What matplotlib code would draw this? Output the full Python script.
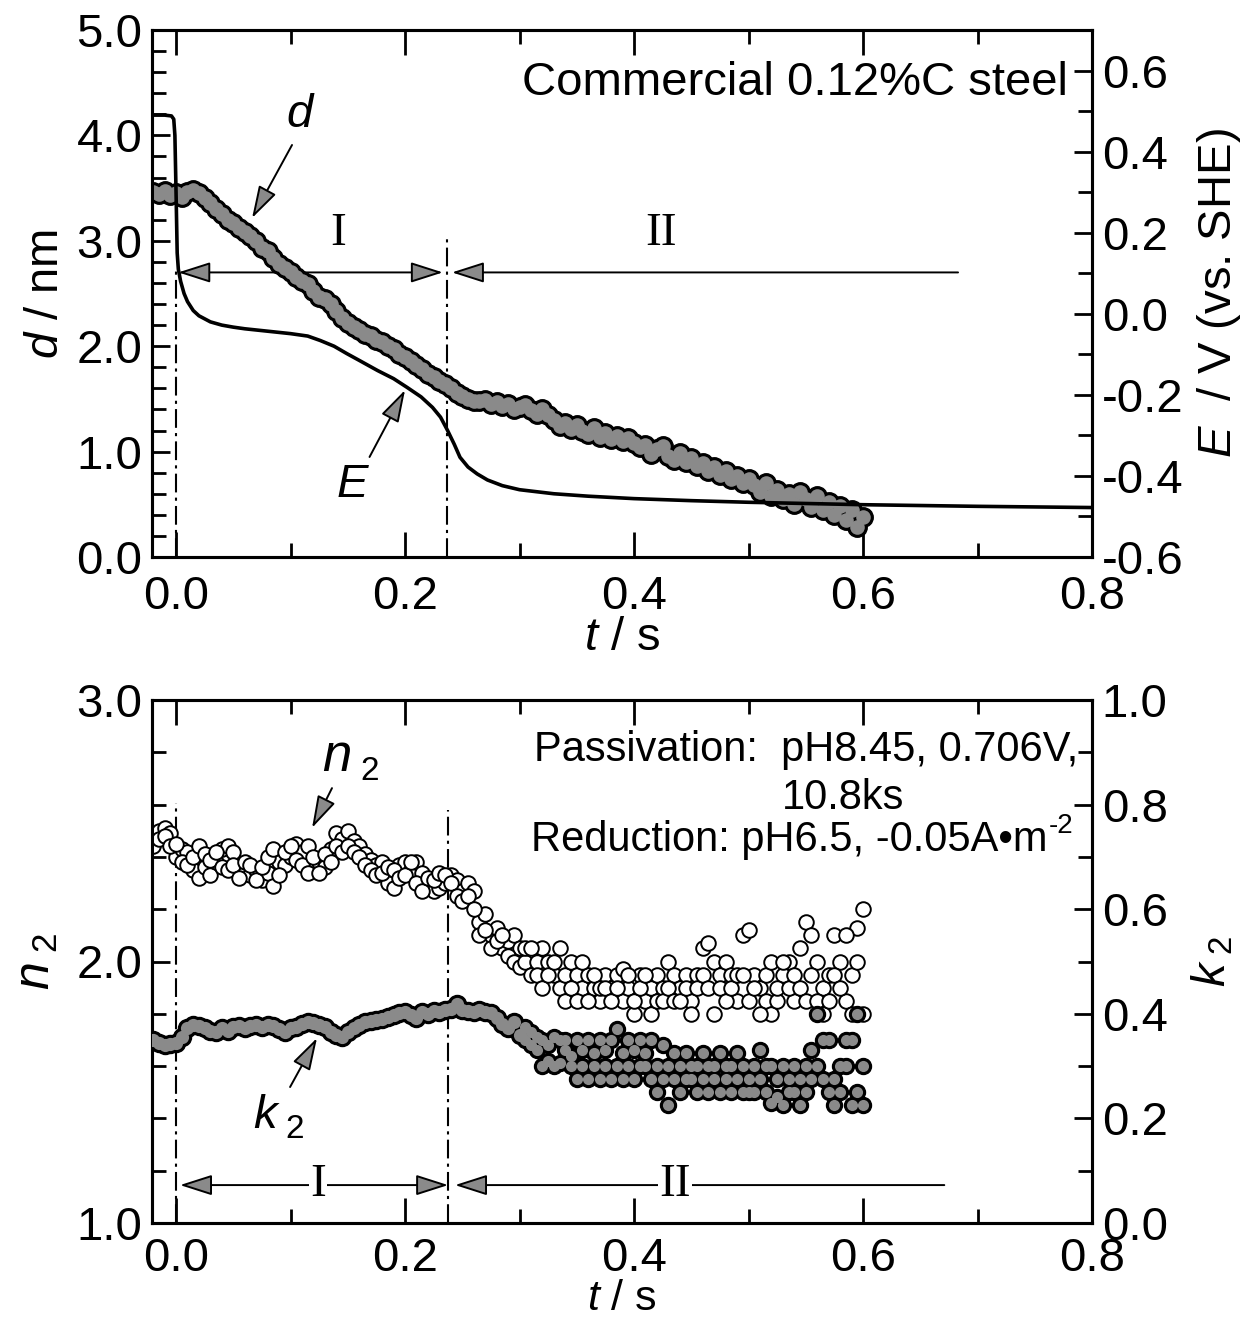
import numpy as np
import matplotlib
matplotlib.use('Agg')
import matplotlib.pyplot as plt
from matplotlib.ticker import MultipleLocator, FormatStrFormatter

plt.rcParams['font.family'] = ['Liberation Sans', 'DejaVu Sans']
plt.rcParams['mathtext.fontset'] = 'custom'
plt.rcParams['mathtext.rm'] = 'Liberation Sans'
plt.rcParams['mathtext.it'] = 'Liberation Sans:italic'
plt.rcParams['mathtext.bf'] = 'Liberation Sans:bold'
plt.rcParams['axes.unicode_minus'] = False

# ---------------- data ----------------
# top panel: film thickness d (nm), sampled every 0.005 s from -0.02 s
d_t_start, d_t_step = -0.02, 0.005
d_nm = [3.46, 3.44, 3.47, 3.43, 3.45, 3.42, 3.46, 3.48, 3.45, 3.41,
        3.36, 3.30, 3.25, 3.20, 3.17, 3.12, 3.08, 3.05, 3.00, 2.93,
        2.90, 2.84, 2.78, 2.74, 2.70, 2.66, 2.62, 2.59, 2.52, 2.47,
        2.45, 2.40, 2.33, 2.27, 2.22, 2.18, 2.15, 2.12, 2.10, 2.06,
        2.04, 2.00, 1.97, 1.93, 1.90, 1.86, 1.82, 1.78, 1.74, 1.71,
        1.67, 1.64, 1.60, 1.56, 1.53, 1.50, 1.48, 1.48, 1.49, 1.45,
        1.47, 1.43, 1.45, 1.40, 1.42, 1.44, 1.39, 1.36, 1.40, 1.35,
        1.30, 1.24, 1.27, 1.21, 1.25, 1.20, 1.17, 1.22, 1.14, 1.18,
        1.12, 1.15, 1.10, 1.13, 1.08, 1.04, 1.06, 0.98, 1.02, 1.05,
        0.96, 0.92, 0.99, 0.90, 0.94, 0.86, 0.89, 0.82, 0.85, 0.78,
        0.82, 0.74, 0.77, 0.70, 0.74, 0.68, 0.62, 0.70, 0.58, 0.64,
        0.55, 0.60, 0.50, 0.62, 0.55, 0.47, 0.58, 0.45, 0.52, 0.40,
        0.48, 0.35, 0.45, 0.28, 0.38]

# top panel: electrode potential E (V vs. SHE)
E_t = [-0.021, -0.010, -0.004, -0.002, -0.001, 0.000, 0.001, 0.002, 0.004, 0.007,
       0.010, 0.015, 0.020, 0.030, 0.040, 0.050, 0.060, 0.080, 0.100, 0.115,
       0.126, 0.138, 0.149, 0.160, 0.176, 0.190, 0.202, 0.214, 0.224, 0.231,
       0.237, 0.243, 0.248, 0.255, 0.263, 0.272, 0.285, 0.300, 0.330, 0.360,
       0.400, 0.450, 0.500, 0.600, 0.700, 0.800]
E_V = [0.490, 0.490, 0.488, 0.480, 0.440, 0.300, 0.150, 0.110, 0.080, 0.050,
       0.030, 0.008, -0.005, -0.020, -0.028, -0.033, -0.037, -0.043, -0.049, -0.055,
       -0.066, -0.080, -0.098, -0.115, -0.140, -0.160, -0.182, -0.205, -0.231, -0.255,
       -0.287, -0.322, -0.354, -0.378, -0.395, -0.410, -0.424, -0.434, -0.444, -0.450,
       -0.456, -0.461, -0.465, -0.471, -0.475, -0.478]

# bottom panel, early part: every 0.005 s from -0.02 s to 0.30 s
early_t_start, early_t_step = -0.02, 0.005
n2_early_a = [2.46, 2.50, 2.51, 2.49, 2.40, 2.43, 2.42, 2.35, 2.32, 2.36,
              2.33, 2.38, 2.43, 2.44, 2.42, 2.35, 2.34, 2.33, 2.35, 2.31,
              2.34, 2.29, 2.38, 2.37, 2.40, 2.45, 2.42, 2.44, 2.35, 2.38,
              2.36, 2.43, 2.49, 2.47, 2.50, 2.46, 2.44, 2.41, 2.39, 2.37,
              2.38, 2.30, 2.28, 2.37, 2.38, 2.35, 2.38, 2.34, 2.29, 2.27,
              2.28, 2.30, 2.33, 2.31, 2.27, 2.30, 2.27, 2.15, 2.18, 2.10,
              2.13, 2.05, 2.08, 2.10, 2.05]
n2_early_b = [2.44, 2.47, 2.48, 2.44, 2.45, 2.38, 2.37, 2.40, 2.44, 2.41,
              2.39, 2.42, 2.36, 2.35, 2.37, 2.32, 2.38, 2.37, 2.31, 2.36,
              2.40, 2.43, 2.33, 2.42, 2.44, 2.39, 2.37, 2.34, 2.40, 2.34,
              2.41, 2.38, 2.44, 2.42, 2.44, 2.42, 2.40, 2.37, 2.35, 2.33,
              2.34, 2.36, 2.35, 2.32, 2.33, 2.38, 2.30, 2.27, 2.32, 2.31,
              2.34, 2.33, 2.30, 2.25, 2.23, 2.25, 2.20, 2.10, 2.12, 2.05,
              2.08, 2.10, 2.02, 2.00, 1.98]
k2_early = [0.350, 0.345, 0.340, 0.342, 0.345, 0.355, 0.372, 0.378, 0.376, 0.372,
            0.368, 0.366, 0.372, 0.368, 0.374, 0.377, 0.372, 0.376, 0.378, 0.374,
            0.378, 0.376, 0.370, 0.366, 0.372, 0.374, 0.380, 0.385, 0.383, 0.378,
            0.374, 0.365, 0.360, 0.355, 0.365, 0.372, 0.378, 0.384, 0.386, 0.388,
            0.390, 0.394, 0.398, 0.402, 0.404, 0.398, 0.392, 0.404, 0.400, 0.406,
            0.404, 0.408, 0.410, 0.418, 0.408, 0.406, 0.404, 0.408, 0.404, 0.402,
            0.392, 0.380, 0.372, 0.385, 0.360]

# bottom panel, late part: every 0.005 s from 0.305 s to 0.60 s
late_t_start, late_t_step = 0.305, 0.005
n2_late_a = [2.00, 1.95, 2.00, 2.05, 2.00, 1.95, 1.90, 1.95, 2.00, 1.95,
             1.90, 1.95, 1.90, 1.85, 1.95, 1.90, 1.95, 1.85, 1.90, 1.80,
             1.95, 1.85, 1.90, 1.95, 1.90, 2.00, 1.95, 1.90, 1.95, 1.85,
             1.95, 2.05, 2.07, 2.00, 1.95, 2.00, 1.95, 1.85, 2.10, 2.12,
             1.95, 1.90, 1.85, 1.80, 1.85, 1.95, 2.00, 1.85, 2.05, 2.15,
             2.10, 2.00, 1.90, 1.95, 2.10, 2.00, 1.85, 1.95, 2.13, 2.20]
n2_late_b = [2.05, 2.05, 1.95, 1.90, 1.95, 2.00, 2.05, 1.85, 1.90, 1.85,
             2.00, 1.85, 1.95, 1.90, 1.90, 1.85, 1.90, 1.97, 1.95, 1.85,
             1.90, 1.95, 1.80, 1.85, 1.85, 1.90, 1.85, 1.85, 1.90, 1.80,
             1.90, 1.95, 1.90, 1.80, 1.90, 1.85, 1.90, 1.95, 1.95, 1.85,
             1.90, 1.80, 1.95, 2.00, 1.90, 2.00, 1.90, 1.95, 1.90, 1.85,
             1.95, 1.85, 1.80, 1.85, 1.95, 1.90, 2.10, 1.80, 2.00, 1.80]
k2_late_a = [0.350, 0.340, 0.330, 0.300, 0.310, 0.300, 0.305, 0.330, 0.300, 0.275,
             0.300, 0.275, 0.300, 0.275, 0.300, 0.275, 0.300, 0.275, 0.300, 0.275,
             0.300, 0.325, 0.350, 0.300, 0.275, 0.225, 0.275, 0.300, 0.325, 0.300,
             0.250, 0.275, 0.300, 0.275, 0.325, 0.300, 0.250, 0.275, 0.300, 0.250,
             0.300, 0.275, 0.250, 0.300, 0.240, 0.225, 0.250, 0.300, 0.275, 0.250,
             0.330, 0.400, 0.275, 0.350, 0.225, 0.300, 0.350, 0.225, 0.400, 0.300]
k2_late_b = [0.375, 0.365, 0.355, 0.350, 0.340, 0.355, 0.350, 0.350, 0.320, 0.350,
             0.330, 0.350, 0.325, 0.350, 0.330, 0.350, 0.370, 0.325, 0.350, 0.330,
             0.350, 0.300, 0.275, 0.250, 0.340, 0.300, 0.325, 0.250, 0.275, 0.275,
             0.300, 0.325, 0.250, 0.300, 0.250, 0.275, 0.300, 0.325, 0.250, 0.275,
             0.250, 0.330, 0.300, 0.230, 0.275, 0.300, 0.275, 0.250, 0.225, 0.300,
             0.275, 0.300, 0.350, 0.250, 0.275, 0.250, 0.300, 0.350, 0.250, 0.225]

# ---------------- figure ----------------
FS = 34
GRAY = '#8a8a8a'
fig = plt.figure(figsize=(12.52, 13.2), dpi=100)
ax1 = fig.add_axes([152/1252, 1-557/1320, 940/1252, 527/1320])
ax2 = fig.add_axes([152/1252, 1-1223/1320, 940/1252, 523/1320])
ax1r = ax1.twinx()
ax2r = ax2.twinx()

t_d = d_t_start + d_t_step*np.arange(len(d_nm))
t_early = early_t_start + early_t_step*np.arange(len(k2_early))
t_late = late_t_start + late_t_step*np.arange(len(k2_late_a))


def blob(ax, x, y, big=14, small=10.5):
    ax.plot(x, y, 'o', ls='none', ms=big, color='k', mec='k', zorder=3)
    ax.plot(x, y, 'o', ls='none', ms=small, color=GRAY, mec='none', zorder=3.1)


# top panel
blob(ax1, t_d, d_nm)
ax1r.plot(E_t, E_V, color='k', lw=2.6, zorder=2)

# bottom panel
for arr_t, arr in [(t_early, n2_early_a), (t_early, n2_early_b),
                   (t_late, n2_late_a), (t_late, n2_late_b)]:
    ax2.plot(arr_t, arr, 'o', ls='none', ms=10.5, mfc='white', mec='k', mew=1.4, zorder=3)
blob(ax2r, t_early, k2_early, 13, 9.5)
blob(ax2r, t_late, k2_late_a, 11.5, 8)
blob(ax2r, t_late, k2_late_b, 11.5, 8)

# axes formatting
for ax, xpad in ((ax1, 13), (ax2, 10)):
    ax.set_xlim(-0.021, 0.8)
    ax.xaxis.set_major_locator(MultipleLocator(0.2))
    ax.xaxis.set_minor_locator(MultipleLocator(0.1))
    ax.xaxis.set_major_formatter(FormatStrFormatter('%.1f'))
    ax.tick_params(axis='x', which='major', direction='in', length=18, width=2,
                   top=True, labelsize=FS, pad=xpad)
    ax.tick_params(axis='x', which='minor', direction='in', length=10, width=2, top=True)
    ax.tick_params(axis='y', which='major', direction='in', length=13, width=2,
                   labelsize=FS, pad=7)
    ax.tick_params(axis='y', which='minor', direction='in', length=10, width=2)
for ax in (ax1r, ax2r):
    ax.tick_params(axis='y', which='major', direction='in', length=13, width=2,
                   labelsize=FS, pad=7)
    ax.tick_params(axis='y', which='minor', direction='in', length=10, width=2)
for ax in (ax1, ax2, ax1r, ax2r):
    for s in ax.spines.values():
        s.set_linewidth(2.2)
ax1.set_xlabel(r'$\mathit{t}$ / s', fontsize=FS, labelpad=-2)
fig.text(0.4968, 0.001, r'$\mathit{t}$ / s', fontsize=31, ha='center', va='bottom')

ax1.set_ylim(0, 5)
ax1.yaxis.set_major_locator(MultipleLocator(1))
ax1.yaxis.set_minor_locator(MultipleLocator(0.2))
ax1.yaxis.set_major_formatter(FormatStrFormatter('%.1f'))
ax1r.set_ylim(-0.6, 0.7)
ax1r.set_yticks([-0.6, -0.4, -0.2, 0.0, 0.2, 0.4, 0.6])
ax1r.yaxis.set_minor_locator(MultipleLocator(0.1))
ax1r.yaxis.set_major_formatter(FormatStrFormatter('%.1f'))

ax2.set_ylim(1, 3)
ax2.yaxis.set_major_locator(MultipleLocator(1))
ax2.yaxis.set_minor_locator(MultipleLocator(0.2))
ax2.yaxis.set_major_formatter(FormatStrFormatter('%.1f'))
ax2r.set_ylim(0, 1)
ax2r.yaxis.set_major_locator(MultipleLocator(0.2))
ax2r.yaxis.set_minor_locator(MultipleLocator(0.1))
ax2r.yaxis.set_major_formatter(FormatStrFormatter('%.1f'))

ax1.set_ylabel(r'$\mathit{d}$ / nm', fontsize=FS, labelpad=6)
ax1r.set_ylabel(r'$\mathit{E}$  / V (vs. SHE)', fontsize=FS, labelpad=8)
ax2.set_ylabel(r'$\mathit{n}_{\ 2}$', fontsize=FS + 2, labelpad=12)
ax2r.set_ylabel(r'$\mathit{k}_{\ 2}$', fontsize=FS, labelpad=16)

# annotations: top panel
DASH = (0, (9, 2.5, 1.5, 2.5))
ax1.plot([0, 0], [0, 2.75], color='k', lw=1.5, ls=DASH, zorder=1)
ax1.plot([0.2367, 0.2367], [0, 3.03], color='k', lw=1.5, ls=DASH, zorder=1)

HEAD = dict(fc=GRAY, ec='k', lw=1.4, shrinkA=0, shrinkB=0, mutation_scale=20)
ax1.annotate('', xy=(0.233, 2.70), xytext=(0.002, 2.70),
             arrowprops=dict(arrowstyle='<|-|>,head_length=1.0,head_width=0.32', **HEAD))
ax1.annotate('', xy=(0.241, 2.70), xytext=(0.683, 2.70),
             arrowprops=dict(arrowstyle='-|>,head_length=1.0,head_width=0.32', **HEAD))
ax1.text(0.1415, 3.065, 'I', fontsize=FS, family='Liberation Serif', ha='center', va='center')
ax1.text(0.4236, 3.07, 'II', fontsize=FS, family='Liberation Serif', ha='center', va='center')

ax1.text(0.108, 4.19, 'd', fontsize=FS, style='italic', ha='center', va='center')
ax1.annotate('', xy=(0.0664, 3.216), xytext=(0.1013, 3.909),
             arrowprops=dict(arrowstyle='-|>,head_length=1.0,head_width=0.3', **HEAD))
ax1.text(0.154, 0.683, 'E', fontsize=FS, style='italic', ha='center', va='center')
ax1.annotate('', xy=(0.200, 1.584), xytext=(0.169, 0.949),
             arrowprops=dict(arrowstyle='-|>,head_length=1.0,head_width=0.3', **HEAD))
ax1.text(0.779, 4.383, 'Commercial 0.12%C steel', fontsize=FS, ha='right', va='baseline')

# annotations: bottom panel
ax2.plot([0, 0], [1, 2.606], color='k', lw=1.5, ls=DASH, zorder=1)
ax2.plot([0.2376, 0.2376], [1, 2.58], color='k', lw=1.5, ls=DASH, zorder=1)
ax2.annotate('', xy=(0.2376, 1.145), xytext=(0.0035, 1.145),
             arrowprops=dict(arrowstyle='<|-|>,head_length=1.0,head_width=0.32', **HEAD))
ax2.annotate('', xy=(0.2437, 1.145), xytext=(0.671, 1.145),
             arrowprops=dict(arrowstyle='-|>,head_length=1.0,head_width=0.32', **HEAD))
ax2.text(0.124, 1.145, 'I', fontsize=FS, family='Liberation Serif', ha='center', va='center',
         zorder=5, bbox=dict(fc='white', ec='none', pad=1))
ax2.text(0.436, 1.145, 'II', fontsize=FS, family='Liberation Serif', ha='center', va='center',
         zorder=5, bbox=dict(fc='white', ec='none', pad=1))

ax2.text(0.1406, 2.782, 'n', fontsize=FS + 4, style='italic', ha='center', va='center')
ax2.text(0.1694, 2.728, '2', fontsize=24, ha='center', va='center')
ax2.annotate('', xy=(0.1188, 2.511), xytext=(0.1362, 2.663),
             arrowprops=dict(arrowstyle='-|>,head_length=1.0,head_width=0.3', **HEAD))
ax2r.text(0.0777, 0.2046, 'k', fontsize=FS, style='italic', ha='center', va='center')
ax2r.text(0.104, 0.178, '2', fontsize=24, ha='center', va='center')
ax2r.annotate('', xy=(0.1231, 0.3537), xytext=(0.0996, 0.26),
              arrowprops=dict(arrowstyle='-|>,head_length=1.0,head_width=0.3', **HEAD))

ax2.text(0.788, 2.767, 'Passivation:  pH8.45, 0.706V,', fontsize=30, ha='right', va='baseline')
ax2.text(0.583, 2.583, '10.8ks', fontsize=30, ha='center', va='baseline')
ax2.text(0.7615, 2.4226, 'Reduction: pH6.5, -0.05A\u2022m', fontsize=30,
         ha='right', va='baseline')
ax2.text(0.7625, 2.49, '-2', fontsize=20, ha='left', va='baseline')

fig.savefig('out.png', dpi=100)
